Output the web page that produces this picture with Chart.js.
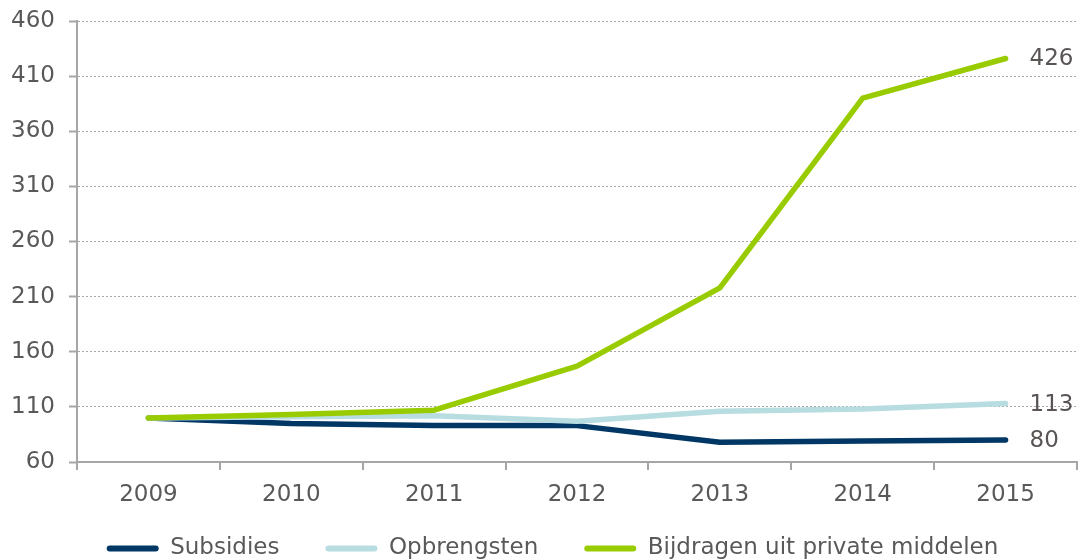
<!DOCTYPE html>
<html>
<head>
<meta charset="utf-8">
<script src="https://cdn.jsdelivr.net/npm/chart.js@4/dist/chart.umd.min.js"></script>
<style>
html,body{margin:0;padding:0;background:#fff;}
#wrap{width:1081px;height:560px;position:relative;}
</style>
</head>
<body>
<div id="wrap"><canvas id="c" width="1081" height="560"></canvas></div>
<script>
const years = ['2009','2010','2011','2012','2013','2014','2015'];
const subsidies = [100, 95, 93, 93, 78, 79, 80];
const opbrengsten = [100, 101, 102, 97, 106, 108, 113];
const bijdragen = [100, 103, 107, 147, 218, 390, 426];
const endLabels = ['80', '113', '426'];
const yMin = 60, yMax = 460, yStep = 50;

const FONT = 'DejaVu Sans, Verdana, sans-serif';
const TXT = '#595959';
const AX = '#a6a6a6';

const endLabelPlugin = {
  id: 'endLabels',
  afterDatasetsDraw(chart) {
    const ctx = chart.ctx;
    ctx.save();
    ctx.font = '23px ' + FONT;
    ctx.fillStyle = '#5a5555';
    ctx.textAlign = 'left';
    ctx.textBaseline = 'middle';
    chart.data.datasets.forEach((ds, i) => {
      const meta = chart.getDatasetMeta(i);
      const pt = meta.data[meta.data.length - 1];
      ctx.fillText(ds.endLabel, pt.x + 24, pt.y + 1);
    });
    ctx.restore();
  }
};

// keep the legend compact vertically and nudge it into place
const legendPlace = {
  id: 'legendPlace',
  beforeLayout(chart) {
    const L = chart.legend;
    if (L && !L._patched) {
      const f = L.fit;
      L.fit = function () { f.call(this); this.height = 50; };
      L._patched = true;
    }
  },
  afterLayout(chart) {
    const L = chart.legend;
    if (!L) return;
    L.top -= 19;
    L.bottom = chart.height;
    L.height = L.bottom - L.top;
    L.left += 14; L.right += 14;
  }
};

new Chart(document.getElementById('c'), {
  type: 'line',
  data: {
    labels: years,
    datasets: [
      {label: 'Subsidies', data: subsidies, borderColor: '#003764', backgroundColor: '#003764', order: 3, endLabel: endLabels[0]},
      {label: 'Opbrengsten', data: opbrengsten, borderColor: '#b7dde1', backgroundColor: '#b7dde1', order: 2, endLabel: endLabels[1]},
      {label: 'Bijdragen uit private middelen', data: bijdragen, borderColor: '#99cc00', backgroundColor: '#99cc00', order: 1, endLabel: endLabels[2]}
    ]
  },
  options: {
    responsive: false,
    animation: false,
    devicePixelRatio: 1,
    layout: {padding: {left: 0, right: 4, top: 21, bottom: 0}},
    elements: {
      line: {borderWidth: 5.5, tension: 0, borderCapStyle: 'round', borderJoinStyle: 'round', fill: false},
      point: {radius: 0, hoverRadius: 0}
    },
    plugins: {
      tooltip: {enabled: false},
      legend: {
        position: 'bottom',
        labels: {
          font: {family: FONT, size: 23},
          color: TXT,
          boxWidth: 52,
          boxHeight: 6,
          useBorderRadius: true,
          borderRadius: 3,
          padding: 46,
          sort: (a, b) => a.datasetIndex - b.datasetIndex,
          generateLabels(chart) {
            return chart.data.datasets.map((ds, i) => ({
              text: ds.label,
              fillStyle: ds.borderColor,
              strokeStyle: ds.borderColor,
              lineWidth: 0,
              fontColor: TXT,
              datasetIndex: i,
              borderRadius: 3
            }));
          }
        }
      }
    },
    scales: {
      x: {
        offset: true,
        afterFit(scale) { scale.height = 48; },
        grid: {offset: true, drawOnChartArea: false, color: AX, lineWidth: 2, tickLength: 8, tickColor: AX, tickWidth: 2},
        border: {color: AX, width: 2},
        ticks: {font: {family: FONT, size: 23}, color: TXT, padding: 11, maxRotation: 0}
      },
      y: {
        min: yMin, max: yMax,
        afterFit(scale) { scale.width = 77; scale.paddingTop = 0; scale.paddingBottom = 0; },
        grid: {color: AX, lineWidth: 1, tickLength: 8, tickColor: AX, tickWidth: 2},
        border: {color: AX, width: 2, dash: [2, 2]},
        ticks: {stepSize: yStep, font: {family: FONT, size: 23}, color: TXT, padding: 14}
      }
    }
  },
  plugins: [endLabelPlugin, legendPlace]
});
</script>
</body>
</html>
